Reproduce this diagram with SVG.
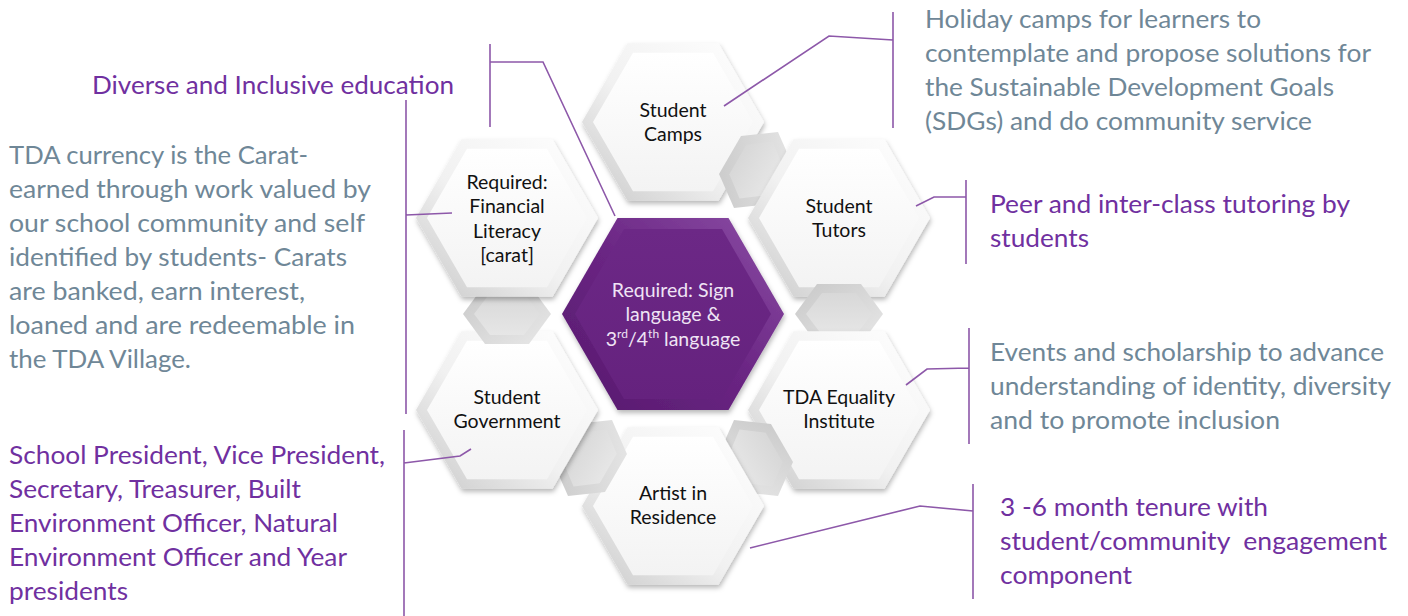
<svg xmlns="http://www.w3.org/2000/svg" xmlns:xlink="http://www.w3.org/1999/xlink" width="1408" height="616" viewBox="0 0 1408 616">
<style>
.txt{font-family:Lato,"Open Sans","Liberation Sans",sans-serif;font-size:25px}
.pur{fill:#7030A0}
.gry{fill:#6F8797}
.nt{font-family:Lato,"Open Sans","Liberation Sans",sans-serif;font-size:19.5px;fill:#111;text-anchor:middle}
.ct{font-family:Lato,"Open Sans","Liberation Sans",sans-serif;font-size:19.5px;fill:#efe4f5;text-anchor:middle}
.outer{fill:url(#gOuter)}
.inner{fill:url(#gInner)}
.pOuter{fill:url(#gPiece)}
.pInner{fill:url(#gPieceIn)}
.conn{fill:none;stroke:#8D58A9;stroke-width:1.6}
</style>
<defs>
<path id="hexO" d="M-91,0 L-45.5,-78.8 L45.5,-78.8 L91,0 L45.5,78.8 L-45.5,78.8 Z"/>
<path id="hexI" d="M-80,0 L-40,-69.3 L40,-69.3 L80,0 L40,69.3 L-40,69.3 Z"/>
<path id="hexC" d="M-111,0 L-55.5,-96.1 L55.5,-96.1 L111,0 L55.5,96.1 L-55.5,96.1 Z"/>
<path id="hexCI" d="M-98,0 L-49,-84.9 L49,-84.9 L98,0 L49,84.9 L-49,84.9 Z"/>
<path id="piece" d="M-44,0 L-22,-30 L22,-30 L44,0 L22,30 L-22,30 Z"/>
<path id="pieceI" d="M-33,0 L-17,-21 L17,-21 L33,0 L17,21 L-17,21 Z"/>
<linearGradient id="gOuter" x1="0" y1="1" x2="1" y2="0">
<stop offset="0" stop-color="#c9c9c9"/>
<stop offset="0.45" stop-color="#f1f1f1"/>
<stop offset="1" stop-color="#ffffff"/>
</linearGradient>
<linearGradient id="gInner" x1="0" y1="0" x2="0" y2="1">
<stop offset="0" stop-color="#ffffff"/>
<stop offset="1" stop-color="#f3f3f3"/>
</linearGradient>
<linearGradient id="gPiece" x1="0" y1="0" x2="1" y2="1">
<stop offset="0" stop-color="#c8c8c8"/>
<stop offset="1" stop-color="#e8e8e8"/>
</linearGradient>
<linearGradient id="gPieceIn" x1="0" y1="0" x2="0" y2="1">
<stop offset="0" stop-color="#d8d8d8"/>
<stop offset="1" stop-color="#e6e6e6"/>
</linearGradient>
<linearGradient id="gCOuter" x1="0" y1="1" x2="1" y2="0">
<stop offset="0" stop-color="#561a6d"/>
<stop offset="0.5" stop-color="#6a2583"/>
<stop offset="1" stop-color="#8c4fa6"/>
</linearGradient>
<linearGradient id="gCInner" x1="0" y1="0" x2="0" y2="1">
<stop offset="0" stop-color="#6c2886"/>
<stop offset="1" stop-color="#65227e"/>
</linearGradient>
<filter id="sh" x="-20%" y="-20%" width="140%" height="150%">
<feDropShadow dx="1" dy="3" stdDeviation="2.5" flood-color="#000" flood-opacity="0.28"/>
</filter>
</defs>
<rect width="1408" height="616" fill="#ffffff"/>

<g id="node-camps" transform="translate(673,122)">
<use href="#hexO" class="outer" filter="url(#sh)"/>
<use href="#hexI" class="inner"/>
<text class="nt" y="-5">Student</text>
<text class="nt" y="19">Camps</text>
</g>
<g id="tab-camps-tutors" transform="translate(756,170) rotate(-60)">
<use href="#piece" class="pOuter"/>
<use href="#pieceI" class="pInner"/>
</g>
<g id="node-tutors" transform="translate(839,218)">
<use href="#hexO" class="outer" filter="url(#sh)"/>
<use href="#hexI" class="inner"/>
<text class="nt" y="-5">Student</text>
<text class="nt" y="19">Tutors</text>
</g>
<g id="tab-tutors-equality" transform="translate(839,314)">
<use href="#piece" class="pOuter"/>
<use href="#pieceI" class="pInner"/>
</g>
<g id="node-equality" transform="translate(839,410)">
<use href="#hexO" class="outer" filter="url(#sh)"/>
<use href="#hexI" class="inner"/>
<text class="nt" y="-6">TDA Equality</text>
<text class="nt" y="18">Institute</text>
</g>
<g id="tab-equality-artist" transform="translate(756,458) rotate(60)">
<use href="#piece" class="pOuter"/>
<use href="#pieceI" class="pInner"/>
</g>
<g id="node-artist" transform="translate(673,506)">
<use href="#hexO" class="outer" filter="url(#sh)"/>
<use href="#hexI" class="inner"/>
<text class="nt" y="-6">Artist in</text>
<text class="nt" y="18">Residence</text>
</g>
<g id="tab-artist-government" transform="translate(590,458) rotate(-60)">
<use href="#piece" class="pOuter"/>
<use href="#pieceI" class="pInner"/>
</g>
<g id="node-government" transform="translate(507,410)">
<use href="#hexO" class="outer" filter="url(#sh)"/>
<use href="#hexI" class="inner"/>
<text class="nt" y="-6">Student</text>
<text class="nt" y="18">Government</text>
</g>
<g id="tab-government-financial" transform="translate(507,314)">
<use href="#piece" class="pOuter"/>
<use href="#pieceI" class="pInner"/>
</g>
<g id="node-financial" transform="translate(507,218)">
<use href="#hexO" class="outer" filter="url(#sh)"/>
<use href="#hexI" class="inner"/>
<text class="nt" y="-29">Required:</text>
<text class="nt" y="-5">Financial</text>
<text class="nt" y="20">Literacy</text>
<text class="nt" y="44">[carat]</text>
</g>
<g id="node-center" transform="translate(673,314)">
<use href="#hexC" fill="url(#gCOuter)" filter="url(#sh)"/>
<use href="#hexCI" fill="url(#gCInner)"/>
<text class="ct" y="-17">Required: Sign</text>
<text class="ct" y="7">language &amp;</text>
<text class="ct" y="32">3<tspan font-size="12" dy="-8">rd</tspan><tspan dy="8">/4</tspan><tspan font-size="12" dy="-8">th</tspan><tspan dy="8"> language</tspan></text>
</g>

<g id="connectors" class="conn">
<path d="M893,12 V128 M893,40 L829,36 L724,106"/>
<path d="M966,180 V264 M966,197 L934,197 L916,206"/>
<path d="M969,328 V444 M969,368 L927,369 L906,385"/>
<path d="M973,484 V599 M973,511 L920,506 L750,548"/>
<path d="M406,100 V414 M406,215 L452,213"/>
<path d="M404,430 V616 M404,463 L460,456 L471,449"/>
<path d="M490,44 V127 M490,62 L543,62 L615,216"/>
</g>

<g id="label-diverse" class="txt pur">
<text x="92" y="94" textLength="362" lengthAdjust="spacingAndGlyphs">Diverse and Inclusive education</text>
</g>
<g id="label-carat" class="txt gry">
<text x="9" y="164" textLength="299" lengthAdjust="spacingAndGlyphs">TDA currency is the Carat-</text>
<text x="9" y="198" textLength="362" lengthAdjust="spacingAndGlyphs">earned through work valued by</text>
<text x="9" y="232" textLength="356" lengthAdjust="spacingAndGlyphs">our school community and self</text>
<text x="9" y="266" textLength="338" lengthAdjust="spacingAndGlyphs">identified by students- Carats</text>
<text x="9" y="300" textLength="296" lengthAdjust="spacingAndGlyphs">are banked, earn interest,</text>
<text x="9" y="334" textLength="346" lengthAdjust="spacingAndGlyphs">loaned and are redeemable in</text>
<text x="9" y="368" textLength="182" lengthAdjust="spacingAndGlyphs">the TDA Village.</text>
</g>
<g id="label-government" class="txt pur">
<text x="9" y="464" textLength="376" lengthAdjust="spacingAndGlyphs">School President, Vice President,</text>
<text x="9" y="498" textLength="292" lengthAdjust="spacingAndGlyphs">Secretary, Treasurer, Built</text>
<text x="9" y="532" textLength="329" lengthAdjust="spacingAndGlyphs">Environment Officer, Natural</text>
<text x="9" y="566" textLength="338" lengthAdjust="spacingAndGlyphs">Environment Officer and Year</text>
<text x="9" y="600" textLength="119" lengthAdjust="spacingAndGlyphs">presidents</text>
</g>
<g id="label-camps" class="txt gry">
<text x="925" y="28" textLength="336" lengthAdjust="spacingAndGlyphs">Holiday camps for learners to</text>
<text x="925" y="62" textLength="446" lengthAdjust="spacingAndGlyphs">contemplate and propose solutions for</text>
<text x="925" y="96" textLength="409" lengthAdjust="spacingAndGlyphs">the Sustainable Development Goals</text>
<text x="925" y="130" textLength="387" lengthAdjust="spacingAndGlyphs">(SDGs) and do community service</text>
</g>
<g id="label-tutors" class="txt pur">
<text x="990" y="213" textLength="360" lengthAdjust="spacingAndGlyphs">Peer and inter-class tutoring by</text>
<text x="990" y="247" textLength="99" lengthAdjust="spacingAndGlyphs">students</text>
</g>
<g id="label-equality" class="txt gry">
<text x="990" y="361" textLength="394" lengthAdjust="spacingAndGlyphs">Events and scholarship to advance</text>
<text x="990" y="395" textLength="401" lengthAdjust="spacingAndGlyphs">understanding of identity, diversity</text>
<text x="990" y="429" textLength="290" lengthAdjust="spacingAndGlyphs">and to promote inclusion</text>
</g>
<g id="label-artist" class="txt pur">
<text x="1000" y="516" textLength="268" lengthAdjust="spacingAndGlyphs">3 -6 month tenure with</text>
<text x="1000" y="550" textLength="387" lengthAdjust="spacingAndGlyphs" xml:space="preserve">student/community  engagement</text>
<text x="1000" y="584" textLength="132" lengthAdjust="spacingAndGlyphs">component</text>
</g>
</svg>
